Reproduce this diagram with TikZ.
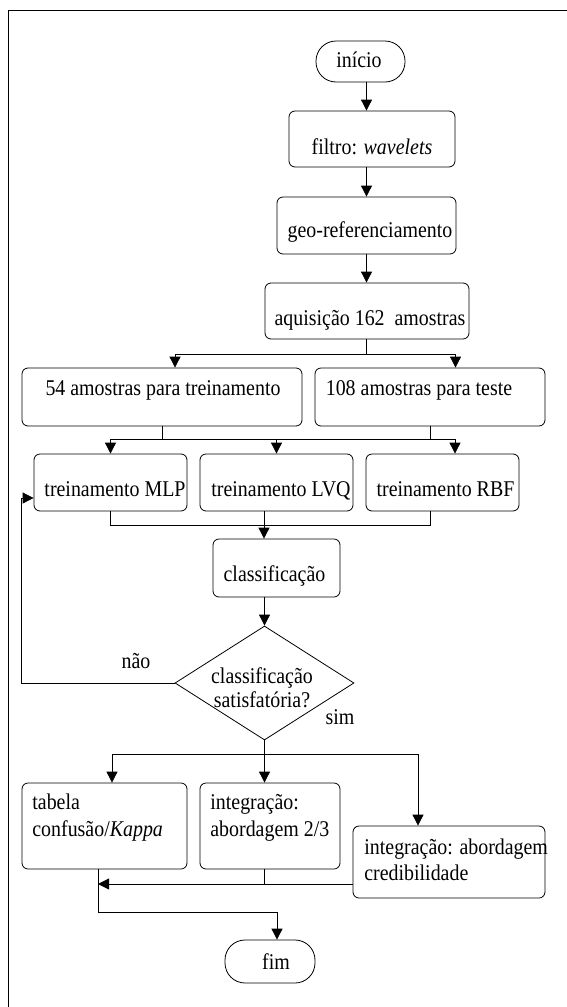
\documentclass[tikz,border=0pt]{standalone}
\usepackage{fontspec}
\setmainfont[FakeStretch=0.885]{Liberation Serif}
\usetikzlibrary{arrows.meta,shapes.geometric}

\begin{document}
\begin{tikzpicture}[x=1pt,y=-1pt,
  line width=0.8pt,
  arr/.style={-{Triangle[length=11pt,width=11pt]}},
  box/.style={draw, rounded corners=6pt, inner sep=0pt},
  pill/.style={draw, rounded corners=20pt, inner sep=0pt},
  txt/.style={inner sep=0pt, font=\fontsize{22.5}{27}\selectfont},
  decision/.style={draw, diamond, inner sep=0pt}]

\useasboundingbox (0,0) rectangle (566,1007);

% page frame
\draw (8,1020) -- (8,10) -- (580,10);

% boxes
\node[pill, minimum width=89pt, minimum height=41pt] (inicio) at (360.5,61.5) {};
\node[box, minimum width=166pt, minimum height=56pt] (filtro) at (372,139) {};
\node[box, minimum width=179pt, minimum height=57pt] (geo) at (366.5,225.5) {};
\node[box, minimum width=204pt, minimum height=56pt] (aq) at (367,311) {};
\node[box, minimum width=280pt, minimum height=58pt] (t54) at (162,397) {};
\node[box, minimum width=230pt, minimum height=58pt] (t108) at (430,397) {};
\node[box, minimum width=153pt, minimum height=57pt] (mlp) at (110.5,482.5) {};
\node[box, minimum width=153pt, minimum height=57pt] (lvq) at (276.5,482.5) {};
\node[box, minimum width=153pt, minimum height=57pt] (rbf) at (442.5,482.5) {};
\node[box, minimum width=127pt, minimum height=58pt] (cls) at (276.5,568) {};
\node[decision, minimum width=179pt, minimum height=114pt] (dec) at (264.5,683) {};
\node[box, minimum width=165pt, minimum height=86pt] (tab) at (104.5,826) {};
\node[box, minimum width=140pt, minimum height=86pt] (i23) at (270,826) {};
\node[box, minimum width=192pt, minimum height=72pt] (cred) at (449,862) {};
\node[pill, minimum width=90pt, minimum height=43pt] (fim) at (270,961.5) {};

% texts
\node[txt, anchor=base] (inicio-t) at (359,67) {início};
\node[txt, anchor=base] (filtro-t) at (372,154) {filtro: \textit{wavelets}};
\node[txt, anchor=base] (geo-t) at (370,237) {geo-referenciamento};
\node[txt, anchor=base] (aq-t) at (370,325) {aquisição 162\ \ amostras};
\node[txt, anchor=base] (t54-t) at (163,395) {54 amostras para treinamento};
\node[txt, anchor=base] (t108-t) at (419,395) {108 amostras para teste};
\node[txt, anchor=base] (mlp-t) at (115,496.5) {treinamento MLP};
\node[txt, anchor=base] (lvq-t) at (281,496.5) {treinamento LVQ};
\node[txt, anchor=base] (rbf-t) at (445.5,496.5) {treinamento RBF};
\node[txt, anchor=base] (cls-t) at (274.5,581) {classificação};
\node[txt, align=center, font=\fontsize{22.5}{24}\selectfont] (dec-t) at (262,688) {classificação\\satisfatória?};
\node[txt, anchor=base] (nao) at (136,668) {não};
\node[txt, anchor=base] (sim) at (340,724) {sim};
\node[txt, anchor=west, align=left, font=\fontsize{22.5}{27}\selectfont] (tab-t) at (32,818) {tabela\\confusão/\textit{Kappa}};
\node[txt, anchor=west, align=left, font=\fontsize{22.5}{27}\selectfont] (i23-t) at (210,818) {integração:\\abordagem 2/3};
\node[txt, anchor=west, align=left, font=\fontsize{22.5}{26}\selectfont] (cred-t) at (364,860) {integração: abordagem\\credibilidade};
\node[txt, anchor=base] (fim-t) at (276,969) {fim};

% main column
\draw[arr] (inicio.south -| geo.north) -- (filtro.north -| geo.north);
\draw[arr] (filtro.south -| geo.north) -- (geo.north);
\draw[arr] (geo.south) -- (aq.north -| geo.south);

% split of the samples
\coordinate (sp1) at (366.5,354);
\draw (aq.south -| sp1) -- (sp1);
\draw[arr] (sp1) -| ([xshift=13pt]t54.north);
\draw[arr] (sp1) -| ([xshift=25.5pt]t108.north);

% samples to the three networks
\coordinate (sp2) at (276.5,439);
\draw (t54.south) -- (t54.south |- sp2);
\draw (t108.south) -- (t108.south |- sp2);
\draw[arr] (mlp.north |- sp2) -- ([xshift=12.5pt]rbf.north |- sp2) -- ([xshift=12.5pt]rbf.north);
\draw[arr] (mlp.north |- sp2) -- (mlp.north);
\draw[arr] (lvq.north |- sp2) -- (lvq.north);

% networks to classification
\coordinate (j1) at (264,525);
\draw (mlp.south) -- (mlp.south |- j1) -- ([xshift=-12.5pt]rbf.south |- j1) -- ([xshift=-12.5pt]rbf.south);
\draw[arr] (lvq.south -| j1) -- (cls.north -| j1);
\draw[arr] (cls.south -| dec.north) -- (dec.north);

% loop back on "não"
\coordinate (lp) at (21,683);
\draw[arr] (dec.west) -- (lp) |- ([yshift=-15.5pt]mlp.west);

% branches on "sim"
\coordinate (sp3) at (264.5,754);
\draw (dec.south) -- (sp3);
\draw[arr] (sp3) -| ([xshift=7.5pt]tab.north);
\draw[arr] (sp3) -| ([xshift=-31pt]cred.north);
\draw[arr] (sp3) -- (i23.north -| sp3);

% gathering towards the end
\coordinate (rt) at (98,884);
\draw[arr] ([yshift=-22pt]cred.west) -- (rt);
\draw (i23.south -| sp3) -- (sp3 |- rt);
\coordinate (fj) at (277,912);
\draw[arr] ([xshift=-6.5pt]tab.south) |- (fj) -- ([xshift=7pt]fim.north);

\end{tikzpicture}
\end{document}
